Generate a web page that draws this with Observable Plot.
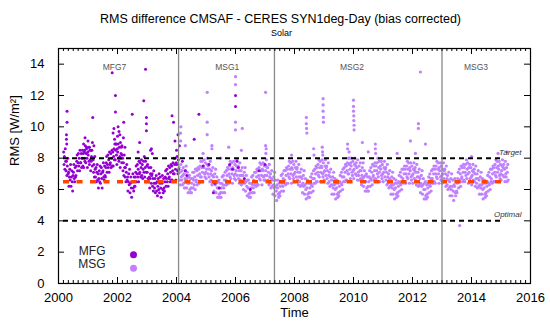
<!DOCTYPE html>
<html><head><meta charset="utf-8">
<script src="https://cdn.jsdelivr.net/npm/d3@7"></script>
<script src="https://cdn.jsdelivr.net/npm/@observablehq/plot@0.6"></script>
<style>body{margin:0;background:#fff}</style>
</head><body><div id="chart"></div>
<script>
// ---- DATA ----
const title = "RMS difference CMSAF - CERES SYN1deg-Day (bias corrected)";
const subtitle = "Solar";
// MFG: values every ~5 days (6 per month), Mar 2000 .. Jan 2004
const mfgStart = 2000 + 2/12;
const mfgValues = [
8.4,7.6,8.1,7.3,8.6,7.8, 7.2,7.8,6.9,7.5,8.0,7.0, 7.1,6.2,6.8,7.3,6.6,7.6, 6.2,6.8,7.2,6.5,5.9,6.9, 7.1,7.6,6.7,6.5,7.4,6.8,
6.9,7.5,7.8,8.2,7.2,7.7, 8.3,7.5,8.0,7.2,8.5,7.7, 7.7,8.3,7.4,8.0,8.5,7.5, 8.3,7.4,8.0,8.5,7.8,8.8, 7.7,8.3,8.7,8.0,7.4,8.4,
8.2,8.7,7.8,7.6,8.5,7.9, 7.2,7.8,8.1,8.5,7.5,8.0, 7.9,7.1,7.6,6.8,8.1,7.3, 6.8,7.4,6.5,7.1,7.6,6.6, 7.0,6.1,6.7,7.2,6.5,7.5,
6.4,7.0,7.4,6.7,6.1,7.1, 7.2,7.7,6.8,6.6,7.5,6.9, 6.8,7.4,7.7,8.1,7.1,7.6, 8.2,7.4,7.9,7.1,8.4,7.6, 7.7,8.3,7.4,8.0,8.5,7.5,
8.4,7.5,8.1,8.6,7.9,8.9, 7.9,8.5,8.9,8.2,7.6,8.6,
8.4,8.9,8.0,7.8,8.7,8.1, 7.4,8.0,8.3,8.7,7.7,8.2, 8.0,7.2,7.7,6.9,8.2,7.4, 6.8,7.4,6.5,7.1,7.6,6.6, 6.8,5.9,6.5,7.0,6.3,7.3,
5.8,6.4,6.8,6.1,5.5,6.5, 6.5,7.0,6.1,5.9,6.8,6.2, 6.2,6.8,7.1,7.5,6.5,7.0, 7.6,6.8,7.3,6.5,7.8,7.0, 7.1,7.7,6.8,7.4,7.9,6.9,
7.6,6.7,7.3,7.8,7.1,8.1, 6.8,7.4,7.8,7.1,6.5,7.5,
7.1,7.6,6.7,6.5,7.4,6.8, 6.1,6.7,7.0,7.4,6.4,6.9, 7.0,6.2,6.7,5.9,7.2,6.4, 6.1,6.7,5.8,6.4,6.9,5.9, 6.5,5.6,6.2,6.7,6.0,7.0,
5.8,6.4,6.8,6.1,5.5,6.5, 6.4,6.9,6.0,5.8,6.7,6.1, 5.9,6.5,6.8,7.2,6.2,6.7, 7.3,6.5,7.0,6.2,7.5,6.7, 6.8,7.4,6.5,7.1,7.6,6.6,
7.5,6.6,7.2,7.7,7.0,8.0, 7.0,7.6,8.0,7.3,6.6,7.7,
7.6,8.1,7.2,7.0,7.9,7.3
];
// MFG isolated / outlying days
const mfgOutT = [2000.27,2000.27,2000.28,2000.29,2000.29,2000.85,2000.88,2000.9,2000.95,2001.0,2001.05,2001.1,2001.15,2001.16,2001.2,
2001.82,2001.85,2001.88,2001.9,2001.93,2001.93,2001.95,2002.0,2002.02,2002.05,2002.08,2002.1,2002.15,2002.2,2002.21,2002.25,
2002.5,2002.7,2002.75,2002.89,2002.95,2002.98,2002.98,2002.98,2003.12,2003.15,2003.18,2003.85,2003.9,2003.95,2004.0,2004.05,2004.1,
2004.2,2004.3,2004.35,2004.6,2004.76,2004.9,2005.1,2005.25,2005.3,2005.45,2005.8,2005.9,2006.0,2006.0,2006.05,2006.1,2006.3,2006.5,2006.8,2007.0];
const mfgOutV = [9.5,9.2,8.9,11.0,10.3,8.9,8.4,9.3,8.6,9.1,8.7,8.5,9.0,10.6,8.8,
13.46,9.6,9.9,9.2,12.0,10.95,8.9,9.4,10.0,9.7,9.5,9.0,8.8,9.3,10.3,8.7,
10.8,8.4,9.0,11.66,13.67,10.6,10.2,9.75,8.5,8.6,8.3,10.7,10.3,9.1,8.5,9.5,8.8,
7.8,7.2,6.9,9.2,10.8,7.5,7.6,5.8,6.4,6.1,7.6,7.3,12.0,11.3,7.8,7.4,6.7,6.0,7.2,7.6];
// MSG: values every ~5 days (6 per month), Feb 2004 .. Mar 2015
const msgStart = 2004 + 1/12;
const msgValues = [
7.4,6.6,7.1,6.3,7.6,6.8, 6.6,7.2,6.3,6.9,7.4,6.4, 7.0,6.1,6.7,7.2,6.5,7.5, 6.1,6.7,7.1,6.4,5.8,6.8, 6.4,6.9,6.0,5.8,6.7,6.1,
5.8,6.4,6.7,7.1,6.1,6.6, 7.1,6.3,6.8,6.0,7.3,6.5, 6.6,7.2,6.3,6.9,7.4,6.4, 7.3,6.4,7.0,7.5,6.8,7.8, 6.8,7.4,7.8,7.1,6.5,7.5,
7.4,7.9,7.0,6.8,7.7,7.1,
6.7,7.3,7.6,8.0,7.0,7.5, 7.6,6.8,7.3,6.5,7.8,7.0, 6.6,7.2,6.3,6.9,7.4,6.4, 6.8,5.9,6.5,7.0,6.3,7.3, 5.8,6.4,6.8,6.1,5.5,6.5,
6.1,6.6,5.7,5.5,6.4,5.8, 5.5,6.1,6.4,6.8,5.8,6.3, 6.9,6.1,6.6,5.8,7.1,6.3, 6.6,7.2,6.3,6.9,7.4,6.4, 7.3,6.4,7.0,7.5,6.8,7.8,
6.7,7.3,7.7,7.0,6.4,7.4, 7.3,7.8,6.9,6.7,7.6,7.0,
6.6,7.2,7.5,7.9,6.9,7.4, 7.5,6.7,7.2,6.4,7.7,6.9, 6.6,7.2,6.3,6.9,7.4,6.4, 6.9,6.0,6.6,7.1,6.4,7.4, 5.9,6.5,6.9,6.2,5.6,6.6,
6.1,6.6,5.7,5.5,6.4,5.8, 5.5,6.1,6.4,6.8,5.8,6.3, 6.9,6.1,6.6,5.8,7.1,6.3, 6.5,7.1,6.2,6.8,7.3,6.3, 7.2,6.3,6.9,7.4,6.7,7.7,
6.6,7.2,7.6,6.9,6.3,7.3, 7.2,7.7,6.8,6.6,7.5,6.9,
6.6,7.2,7.5,7.9,6.9,7.4, 7.4,6.6,7.1,6.3,7.6,6.8, 6.4,7.0,6.1,6.7,7.2,6.2, 6.6,5.7,6.3,6.8,6.1,7.1, 5.6,6.2,6.6,5.9,5.3,6.3,
6.1,6.6,5.7,5.5,6.4,5.8, 5.6,6.2,6.5,6.9,5.9,6.4, 7.0,6.2,6.7,5.9,7.2,6.4, 6.6,7.2,6.3,6.9,7.4,6.4, 7.3,6.4,7.0,7.5,6.8,7.8,
6.7,7.3,7.7,7.0,6.4,7.4, 7.3,7.8,6.9,6.7,7.6,7.0,
6.5,7.1,7.4,7.8,6.8,7.3, 7.4,6.6,7.1,6.3,7.6,6.8, 6.5,7.1,6.2,6.8,7.3,6.3, 6.7,5.8,6.4,6.9,6.2,7.2, 5.7,6.3,6.7,6.0,5.4,6.4,
6.1,6.6,5.7,5.5,6.4,5.8, 5.5,6.1,6.4,6.8,5.8,6.3, 7.0,6.2,6.7,5.9,7.2,6.4, 6.7,7.3,6.4,7.0,7.5,6.5, 7.4,6.5,7.1,7.6,6.9,7.9,
6.8,7.4,7.8,7.1,6.5,7.5, 7.4,7.9,7.0,6.8,7.7,7.1,
6.6,7.2,7.5,7.9,6.9,7.4, 7.5,6.7,7.2,6.4,7.7,6.9, 6.5,7.1,6.2,6.8,7.3,6.3, 6.6,5.7,6.3,6.8,6.1,7.1, 5.7,6.3,6.7,6.0,5.4,6.4,
6.1,6.6,5.7,5.5,6.4,5.8, 5.6,6.2,6.5,6.9,5.9,6.4, 7.1,6.3,6.8,6.0,7.3,6.5, 6.8,7.4,6.5,7.1,7.6,6.6, 7.5,6.6,7.2,7.7,7.0,8.0,
7.0,7.6,8.0,7.3,6.7,7.7, 7.5,8.0,7.1,6.9,7.8,7.2,
6.7,7.3,7.6,8.0,7.0,7.5, 7.7,6.9,7.4,6.6,7.9,7.1, 6.9,7.5,6.6,7.2,7.7,6.7, 7.2,6.3,6.9,7.4,6.7,7.7, 6.2,6.8,7.2,6.5,5.9,6.9,
6.5,7.0,6.1,5.9,6.8,6.2, 5.9,6.5,6.8,7.2,6.2,6.7, 7.4,6.6,7.1,6.3,7.6,6.8, 6.9,7.5,6.6,7.2,7.7,6.7, 7.5,6.6,7.2,7.7,7.0,8.0,
6.8,7.4,7.8,7.1,6.5,7.5, 7.3,7.8,6.9,6.7,7.6,7.0,
6.5,7.1,7.4,7.8,6.8,7.3, 7.4,6.6,7.1,6.3,7.6,6.8, 6.4,7.0,6.1,6.7,7.2,6.2, 6.6,5.7,6.3,6.8,6.1,7.1, 5.7,6.3,6.7,6.0,5.4,6.4,
6.1,6.6,5.7,5.5,6.4,5.8, 5.6,6.2,6.5,6.9,5.9,6.4, 7.1,6.3,6.8,6.0,7.3,6.5, 6.7,7.3,6.4,7.0,7.5,6.5, 7.3,6.4,7.0,7.5,6.8,7.8,
6.7,7.3,7.7,7.0,6.4,7.4, 7.2,7.7,6.8,6.6,7.5,6.9,
6.4,7.0,7.3,7.7,6.7,7.2, 7.4,6.6,7.1,6.3,7.6,6.8, 6.5,7.1,6.2,6.8,7.3,6.3, 6.7,5.8,6.4,6.9,6.2,7.2, 5.7,6.3,6.7,6.0,5.4,6.4,
6.0,6.5,5.6,5.4,6.3,5.7, 5.5,6.1,6.4,6.8,5.8,6.3, 7.0,6.2,6.7,5.9,7.2,6.4, 6.7,7.3,6.4,7.0,7.5,6.5, 7.3,6.4,7.0,7.5,6.8,7.8,
6.7,7.3,7.7,7.0,6.4,7.4, 7.2,7.7,6.8,6.6,7.5,6.9,
6.4,7.0,7.3,7.7,6.7,7.2, 7.3,6.5,7.0,6.2,7.5,6.7, 6.3,6.9,6.0,6.6,7.1,6.1, 6.5,5.6,6.2,6.7,6.0,7.0, 5.6,6.2,6.6,5.9,5.3,6.3,
6.2,6.7,5.8,5.6,6.5,5.9, 5.8,6.4,6.7,7.1,6.1,6.6, 7.3,6.5,7.0,6.2,7.5,6.7, 6.8,7.4,6.5,7.1,7.6,6.6, 7.4,6.5,7.1,7.6,6.9,7.9,
6.7,7.3,7.7,7.0,6.4,7.4, 7.1,7.6,6.7,6.5,7.4,6.8,
6.3,6.9,7.2,7.6,6.6,7.1, 7.3,6.5,7.0,6.2,7.5,6.7, 6.4,7.0,6.1,6.7,7.2,6.2, 6.6,5.7,6.3,6.8,6.1,7.1, 5.7,6.3,6.7,6.0,5.4,6.4,
6.1,6.6,5.7,5.5,6.4,5.8, 5.6,6.2,6.5,6.9,5.9,6.4, 7.1,6.3,6.8,6.0,7.3,6.5, 6.7,7.3,6.4,7.0,7.5,6.5, 7.4,6.5,7.1,7.6,6.9,7.9,
6.8,7.4,7.8,7.1,6.5,7.5, 7.3,7.8,6.9,6.7,7.6,7.0,
6.6,7.2,7.5,7.9,6.9,7.4, 7.6,6.8,7.3,6.5,7.8,7.0, 6.8,7.4,6.5,7.1,7.6,6.6
];
// MSG isolated / outlying days
const msgOutT = [2004.14,2004.14,2004.15,2004.3,2004.9,2005.04,2005.04,2005.04,2005.2,2005.2,2005.5,2005.77,
2006.0,2006.0,2006.0,2006.0,2006.2,2006.23,2007.02,2007.02,2007.03,2007.04,2007.9,
2008.4,2008.4,2008.41,2008.42,2008.65,2008.66,2008.97,2008.97,2008.97,2008.98,2008.98,2008.94,2008.95,2008.96,
2009.8,2009.8,2009.85,2010.0,2010.0,2010.0,2010.01,2010.01,2010.02,2010.02,2010.3,2010.5,2010.74,2010.74,2010.75,
2011.48,2011.93,2012.1,2012.2,2012.2,2012.27,2012.44,2013.6,2014.0,2014.9,2015.2];
const msgOutV = [9.1,9.6,10.0,8.8,8.3,12.2,10.3,9.5,8.8,8.6,8.0,8.7,
13.2,12.7,10.3,9.8,8.5,9.9,12.2,8.8,8.3,8.6,8.2,
10.6,10.2,9.9,9.6,8.6,8.2,11.8,11.4,11.0,10.6,10.3,8.7,8.4,8.2,
8.9,8.6,8.4,11.7,11.3,11.0,10.7,10.4,10.1,9.8,9.0,8.4,8.9,8.6,8.3,
8.3,9.1,8.3,10.2,9.9,13.5,8.9,3.7,8.1,8.3,8.4];
const satNames = ["MFG7","MSG1","MSG2","MSG3"];
const satLabelX = [2001.9, 2005.72, 2009.95, 2014.15];
const satBoundaries = [2004.07, 2007.32, 2013.0];
const refNames = ["Target","Optimal"];
const refValues = [8, 4];
const refLineStart = 2000.17, refLineEnd = 2015.05;
const biasValue = 6.5, biasLineStart = 2000.17, biasLineEnd = 2015.22;
const xTicks = [2000,2002,2004,2006,2008,2010,2012,2014,2016];
const yTicks = [0,2,4,6,8,10,12,14];
const seriesNames = ["MFG","MSG"];
const seriesColors = ["#9400d3","#c080ff"];

// ---- build tables ----
const step = 1/72;
const mfg = mfgValues.map((v,i)=>({t: mfgStart + (i+0.5)*step, v}))
  .concat(mfgOutT.map((t,i)=>({t, v: mfgOutV[i]})));
const msg = msgValues.map((v,i)=>({t: msgStart + (i+0.5)*step, v}))
  .concat(msgOutT.map((t,i)=>({t, v: msgOutV[i]})));
const sats = satNames.map((name,i)=>({name, x: satLabelX[i]}));
const refs = refNames.map((name,i)=>({name, v: refValues[i]}));
const xMinor = d3.range(2000, 2016.001, 1/6);

const W = 550, H = 326, mL = 58, mR = 20, mT = 48, mB = 43;
const fw = W - mL - mR, fh = H - mT - mB;
const font = "'Liberation Sans', Arial, Helvetica, sans-serif";

const chart = Plot.plot({
  width: W, height: H,
  marginLeft: mL, marginRight: mR, marginTop: mT, marginBottom: mB,
  style: {fontFamily: font, fontSize: "13px", background: "#fff", color: "#000"},
  x: {domain: [2000, 2016]},
  y: {domain: [0, 15]},
  marks: [
    Plot.dot(msg, {x: "t", y: "v", r: 1.6, fill: seriesColors[1], stroke: "none"}),
    Plot.dot(mfg, {x: "t", y: "v", r: 1.5, fill: seriesColors[0], stroke: "none"}),
    Plot.ruleY([biasValue], {x1: biasLineStart, x2: biasLineEnd, stroke: "#ff4500", strokeWidth: 3.5, strokeDasharray: "6,7.5"}),
    Plot.ruleY(refValues, {x1: refLineStart, x2: refLineEnd, stroke: "#000", strokeWidth: 2, strokeDasharray: "5,4"}),
    Plot.ruleX(satBoundaries, {stroke: "#888", strokeWidth: 1.3}),
    Plot.text(sats, {x: "x", text: "name", frameAnchor: "top", dy: 15, fontSize: 8.5, fill: "#555"}),
    Plot.text(refs, {y: "v", text: "name", frameAnchor: "right", dx: -9, dy: -6, textAnchor: "end", fontStyle: "italic", fontSize: 8, fill: "#333"}),
    // ticks (inward, mirrored)
    Plot.tickX(xTicks, {x: d => d, insetTop: fh - 6, stroke: "#000"}),
    Plot.tickX(xTicks, {x: d => d, insetBottom: fh - 6, stroke: "#000"}),
    Plot.tickX(xMinor, {x: d => d, insetTop: fh - 3, stroke: "#000"}),
    Plot.tickX(xMinor, {x: d => d, insetBottom: fh - 3, stroke: "#000"}),
    Plot.tickY(yTicks, {y: d => d, insetRight: fw - 6, stroke: "#000"}),
    Plot.tickY(yTicks, {y: d => d, insetLeft: fw - 6, stroke: "#000"}),
    Plot.axisX(xTicks, {anchor: "bottom", tickSize: 0, tickPadding: 9, label: null, fontSize: 13, tickFormat: d => String(d)}),
    Plot.axisY(yTicks, {anchor: "left", tickSize: 0, tickPadding: 14, label: null, fontSize: 13}),
    Plot.frame({stroke: "#000", strokeWidth: 1.2}),
    // legend
    Plot.text([seriesNames[0]], {frameAnchor: "bottom-left", dx: 47, dy: -28.7, textAnchor: "end", fontSize: 12, fill: "#222"}),
    Plot.text([seriesNames[1]], {frameAnchor: "bottom-left", dx: 47, dy: -15.3, textAnchor: "end", fontSize: 12, fill: "#222"}),
    Plot.dot([seriesNames[0]], {frameAnchor: "bottom-left", dx: 75, dy: -28.7, r: 3.5, fill: seriesColors[0], stroke: "none"}),
    Plot.dot([seriesNames[1]], {frameAnchor: "bottom-left", dx: 75, dy: -15.3, r: 3.5, fill: seriesColors[1], stroke: "none"}),
    // titles and axis labels
    Plot.text([title], {frameAnchor: "top-left", dx: 222, dy: -34, textAnchor: "middle", fontSize: 12.5, fill: "#000"}),
    Plot.text([subtitle], {frameAnchor: "top-left", dx: 223, dy: -19, textAnchor: "middle", fontSize: 9, fill: "#000"}),
    Plot.text(["Time"], {frameAnchor: "bottom", dy: 33, fontSize: 13, fill: "#000"}),
    Plot.text(["RMS [W/m²]"], {frameAnchor: "left", dx: -44, rotate: -90, fontSize: 13, fill: "#000"})
  ]
});
document.getElementById("chart").appendChild(chart);
</script>
</body></html>
